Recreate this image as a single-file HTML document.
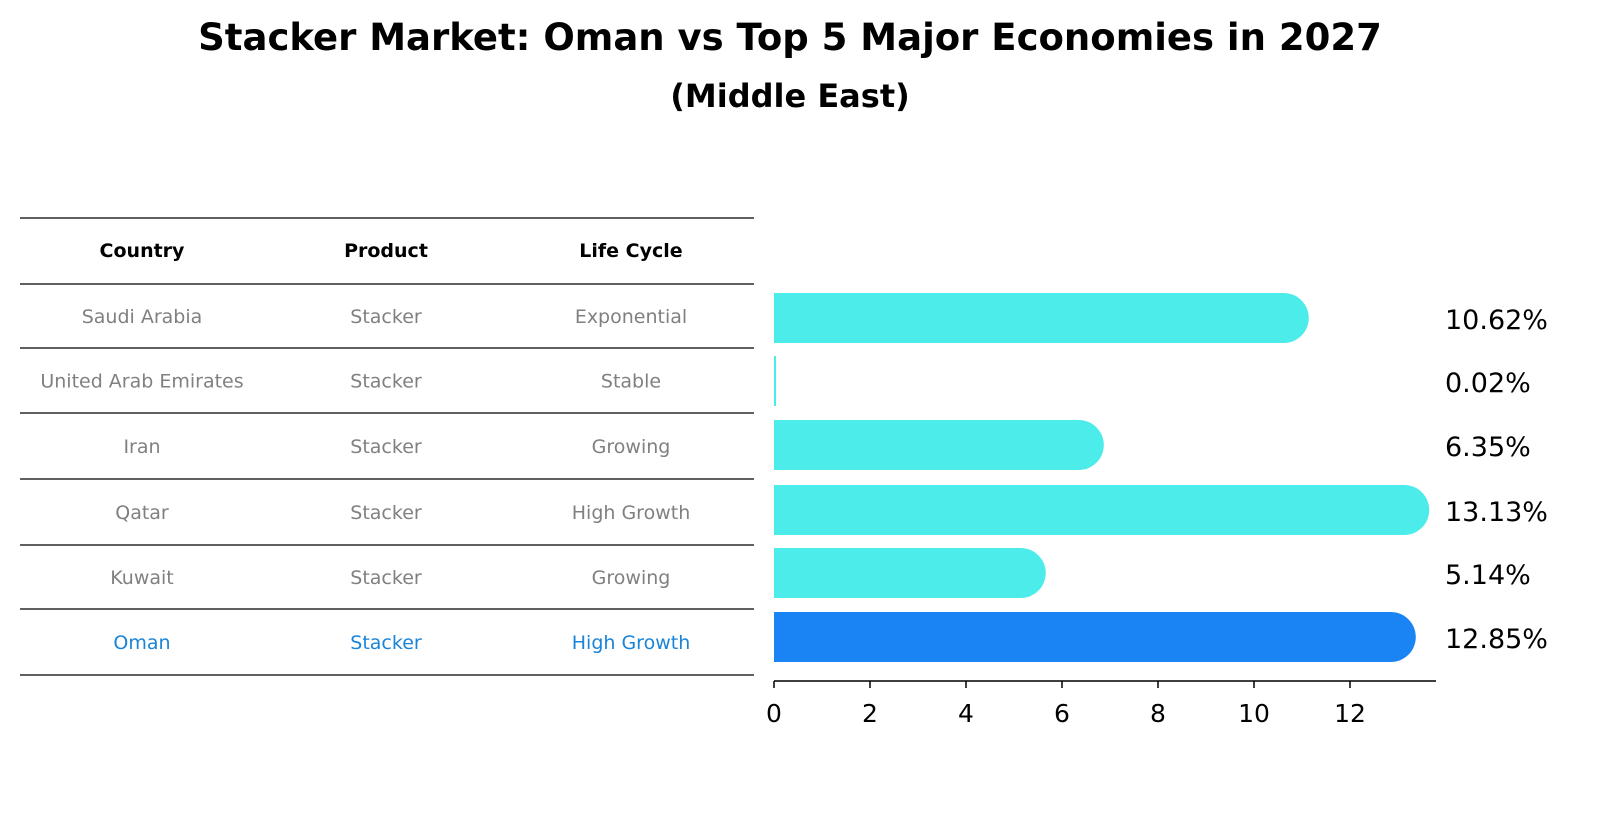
<!DOCTYPE html>
<html><head><meta charset="utf-8"><style>
body{margin:0;background:#fff;font-family:"Liberation Sans","DejaVu Sans",sans-serif}
</style></head><body>
<svg width="1604" height="823" xmlns="http://www.w3.org/2000/svg" font-family="DejaVu Sans, Liberation Sans, sans-serif">
<text x="790" y="50" text-anchor="middle" font-size="37" font-weight="bold">Stacker Market: Oman vs Top 5 Major Economies in 2027</text>
<text x="790" y="107" text-anchor="middle" font-size="32" font-weight="bold">(Middle East)</text>
<g id="table"></g>
<g id="bars"></g>
</svg>
<script>
const countries=["Saudi Arabia","United Arab Emirates","Iran","Qatar","Kuwait","Oman"];
const products=["Stacker","Stacker","Stacker","Stacker","Stacker","Stacker"];
const lifecycles=["Exponential","Stable","Growing","High Growth","Growing","High Growth"];
const values=[10.62,0.02,6.35,13.13,5.14,12.85];
const ticks=[0,2,4,6,8,10,12];
const NS="http://www.w3.org/2000/svg";
function mk(t,a,p){const e=document.createElementNS(NS,t);for(const k in a)e.setAttribute(k,a[k]);p.appendChild(e);return e;}
const tb=document.getElementById('table');
const lineYs=[218,284,348,413,479,545,609,675];
lineYs.forEach((y,i)=>{const l=mk('line',{x1:20,x2:754,y1:y,y2:y,stroke:'#000','stroke-width':1.2},tb);

});
const colX=[142,386,631];
["Country","Product","Life Cycle"].forEach((h,j)=>{const t=mk('text',{x:colX[j],y:257,'text-anchor':'middle','font-size':19,'font-weight':'bold'},tb);t.textContent=h;

});
countries.forEach((c,i)=>{const y=(lineYs[i+1]+lineYs[i+2])/2+7;const col=i===countries.length-1?'#1a84d8':'#808080';
[c,products[i],lifecycles[i]].forEach((v,j)=>{const t=mk('text',{x:colX[j],y:y,'text-anchor':'middle','font-size':19,fill:col},tb);t.textContent=v;

});});
const g=document.getElementById('bars');
const x0=774,ppu=48,r=25,bh=50;
const xs=v=>x0+v*ppu;
const centers=[318,381,445,510,573,637];
values.forEach((v,i)=>{const cy=centers[i];const xe=xs(v);const col=i===values.length-1?'#1a84f5':'#4cecea';
const w=xe-x0;
let d;
if(w<1){d=`M${x0},${cy-bh/2}h2v${bh}h-2z`;}
else d=`M${x0},${cy-bh/2}H${xe}A${r},${r} 0 0 1 ${xe},${cy+bh/2}H${x0}Z`;
const p=mk('path',{d:d,fill:col},g);


const t=mk('text',{x:1445,y:cy+11,'font-size':27},g);t.textContent=v.toFixed(2)+'%';

});
const ax=mk('line',{x1:x0,x2:1436,y1:681,y2:681,stroke:'#000','stroke-width':1.5},g);


ticks.forEach(tv=>{const x=xs(tv);mk('line',{x1:x,x2:x,y1:681,y2:688,stroke:'#000','stroke-width':1.5},g);
const t=mk('text',{x:x,y:722,'text-anchor':'middle','font-size':25},g);t.textContent=tv;

});
</script>
</body></html>
